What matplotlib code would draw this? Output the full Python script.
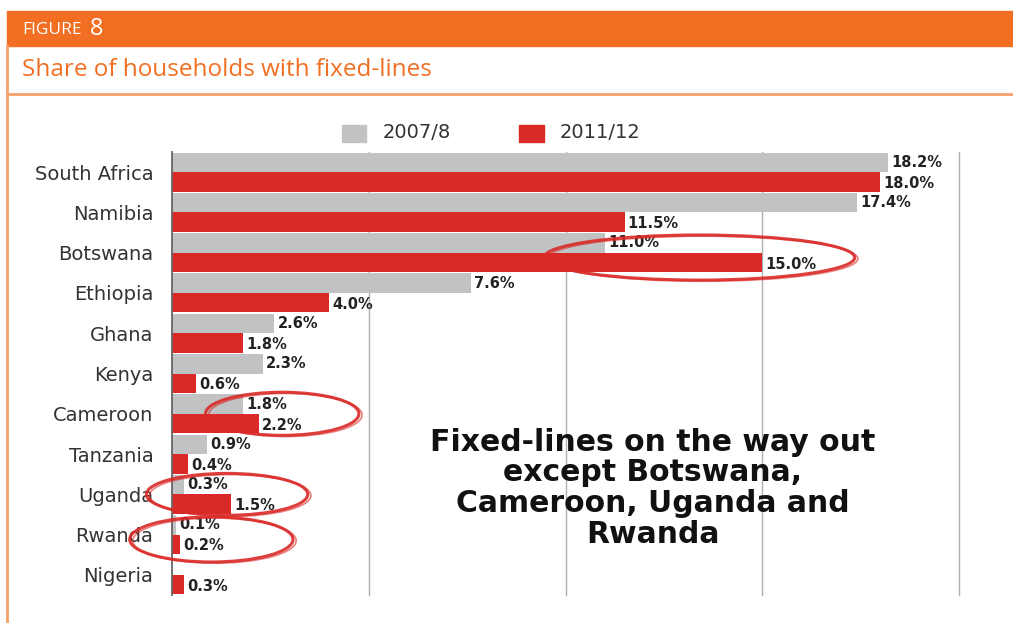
import matplotlib.pyplot as plt
import numpy as np
from matplotlib.patches import Rectangle, Ellipse

plt.rcParams["font.family"] = ["DejaVu Sans"]

# --- data ---
countries = ["South Africa", "Namibia", "Botswana", "Ethiopia", "Ghana", "Kenya",
             "Cameroon", "Tanzania", "Uganda", "Rwanda", "Nigeria"]
share_2007 = [18.2, 17.4, 11.0, 7.6, 2.6, 2.3, 1.8, 0.9, 0.3, 0.1, 0.0]
share_2011 = [18.0, 11.5, 15.0, 4.0, 1.8, 0.6, 2.2, 0.4, 1.5, 0.2, 0.3]
series_names = ["2007/8", "2011/12"]
label_2007 = ["18.2%", "17.4%", "11.0%", "7.6%", "2.6%", "2.3%", "1.8%", "0.9%", "0.3%", "0.1%", ""]
label_2011 = ["18.0%", "11.5%", "15.0%", "4.0%", "1.8%", "0.6%", "2.2%", "0.4%", "1.5%", "0.2%", "0.3%"]

# circled countries: x centre, width, height, y offset (data units)
circled = ["Botswana", "Cameroon", "Uganda", "Rwanda"]
circ_x = [13.4, 2.8, 1.4, 1.0]
circ_w = [7.9, 3.9, 4.1, 4.15]
circ_h = [1.12, 1.07, 1.04, 1.12]
circ_dy = [0.12, 0.0, 0.0, 0.12]

ORANGE = "#F26E22"
GREY = "#C1C2C4"
RED = "#DA2A27"

W, H = 1013, 623
fig = plt.figure(figsize=(W / 100, H / 100), dpi=100, facecolor="white")

# --- header ---
fig.patches.append(Rectangle((7 / W, 1 - 46 / H), 1 - 7 / W, 35 / H,
                             transform=fig.transFigure, color=ORANGE, zorder=0))
fig.text(22 / W, 1 - 30 / H, "FIGURE", color="white", fontsize=12.5,
         family="Open Sans", va="center", ha="left")
fig.text(90 / W, 1 - 29 / H, "8", color="white", fontsize=17,
         family="Open Sans", va="center", ha="left")
fig.text(22 / W, 1 - 70 / H, "Share of households with fixed-lines", color=ORANGE,
         fontsize=17.5, family="Open Sans", va="center", ha="left")
fig.add_artist(plt.Line2D([7 / W, 1], [1 - 94 / H, 1 - 94 / H], color="#F7A06B",
                          lw=2, transform=fig.transFigure))
fig.add_artist(plt.Line2D([7 / W, 7 / W], [0, 1 - 46 / H], color="#F7A06B",
                          lw=2, transform=fig.transFigure))

# --- chart ---
ax = fig.add_axes([172 / W, 1 - 595 / H, (959 - 172) / W, (595 - 152) / H])
y = np.arange(len(countries))
bh = 0.485
ax.barh(y - bh / 2, share_2007, height=bh, color=GREY, zorder=2)
ax.barh(y + bh / 2, share_2011, height=bh, color=RED, zorder=2)

for i in range(len(countries)):
    if label_2007[i]:
        ax.text(share_2007[i] + 0.08, y[i] - bh / 2, label_2007[i], va="center",
                ha="left", fontsize=10.5, fontweight="bold", color="#222222", zorder=4)
    ax.text(share_2011[i] + 0.08, y[i] + bh / 2 + 0.04, label_2011[i], va="center",
            ha="left", fontsize=10.5, fontweight="bold", color="#222222", zorder=4)

ax.set_xlim(0, 20)
ax.set_ylim(len(countries) - 0.5, -0.5)
ax.set_yticks(y)
ax.set_yticklabels(countries, fontsize=14, color="#333333")
ax.tick_params(axis="y", length=0, pad=13.5)
ax.set_xticks([5, 10, 15, 20])
ax.set_xticklabels([])
ax.tick_params(axis="x", length=0)
ax.grid(axis="x", color="#B0B0B0", lw=1, zorder=0)
for gl in ax.get_xgridlines():
    gl.set_clip_on(False)
for s in ["top", "right", "bottom"]:
    ax.spines[s].set_visible(False)
ax.spines["left"].set_color("#666666")
ax.spines["left"].set_linewidth(1.3)
ax.spines["left"].set_zorder(3)

# red hand-drawn style ellipses
for name, cx, cw, ch, dy in zip(circled, circ_x, circ_w, circ_h, circ_dy):
    r = countries.index(name)
    for k, (ox, oy) in enumerate([(0, 0), (0.08, 0.03)]):
        ax.add_patch(Ellipse((cx + ox, r + dy + oy), cw, ch, fill=False,
                             ec=RED, lw=2.2 if k == 0 else 1.2, alpha=0.9 if k == 0 else 0.6,
                             zorder=5, clip_on=False))

ax.text(12.22, 7.85, "Fixed-lines on the way out\nexcept Botswana,\nCameroon, Uganda and\nRwanda",
        ha="center", va="center", fontsize=21.5, fontweight="bold", color="#111111",
        linespacing=1.08, zorder=6)

# --- legend ---
fig.patches.append(Rectangle((342 / W, 1 - 142 / H), 24 / W, 17 / H,
                             transform=fig.transFigure, color=GREY))
fig.text(383 / W, 1 - 133 / H, series_names[0], fontsize=14, color="#333333", va="center")
fig.patches.append(Rectangle((519 / W, 1 - 142 / H), 25 / W, 17 / H,
                             transform=fig.transFigure, color=RED))
fig.text(560 / W, 1 - 133 / H, series_names[1], fontsize=14, color="#333333", va="center")

fig.savefig("out.png", dpi=100, facecolor="white")
